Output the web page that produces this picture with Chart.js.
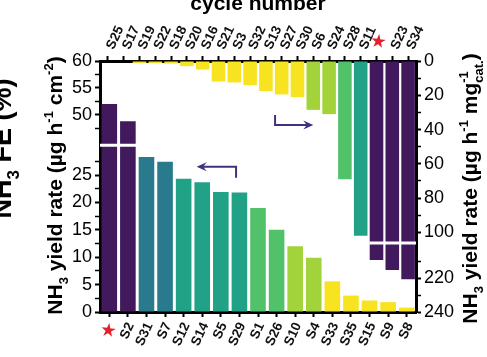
<!DOCTYPE html>
<html><head><meta charset="utf-8">
<script src="https://cdn.jsdelivr.net/npm/chart.js@4"></script>
<style>html,body{margin:0;padding:0;background:#fff;}canvas{display:block;}</style>
</head><body>
<canvas id="c" width="487" height="357" style="width:487px;height:357px"></canvas>
<script>
// ---- data ----
const BOTTOM_CATS = ['★','S2','S31','S7','S12','S14','S5','S29','S1','S26','S10','S4','S33','S35','S15','S9','S8'];
const AREA_RATE   = [52.0, 48.8, 28.3, 27.4, 24.3, 23.7, 21.9, 21.8, 19.0, 15.0, 12.0, 9.9, 5.6, 3.0, 2.1, 1.8, 0.8];
const TOP_CATS    = ['S25','S17','S19','S22','S18','S20','S16','S21','S3','S32','S13','S27','S30','S6','S24','S28','S11','★','S23','S34'];
const MASS_RATE   = [0, 0, 1.2, 1.2, 1.5, 3, 5, 12, 12.5, 14, 17.5, 19.5, 21, 28.5, 31, 69, 102, 209, 215, 220.5];
const LEFT_TICKS  = [0, 5, 10, 15, 20, 25, 50, 55, 60];
const LEFT_MINOR  = [2.5, 7.5, 12.5, 17.5, 22.5, 27.5, 47.5, 52.5, 57.5];
const RIGHT_TICKS = [0, 20, 40, 60, 80, 100, 220, 240];
const RIGHT_MINOR = [10, 30, 50, 70, 90, 210, 230];

// ---- styles ----
const FONT = "'Liberation Sans', Arial, sans-serif";
const PURPLE = '#42195c', BLUE = '#2a7a8e', TEAL = '#21a286', GREEN = '#52c26a', LIME = '#a2d33b', YELLOW = '#f7e320';
const BOTTOM_COLORS = [PURPLE,PURPLE,BLUE,BLUE,TEAL,TEAL,TEAL,TEAL,GREEN,GREEN,LIME,LIME,YELLOW,YELLOW,YELLOW,YELLOW,YELLOW];
const TOP_COLORS = [YELLOW,YELLOW,YELLOW,YELLOW,YELLOW,YELLOW,YELLOW,YELLOW,YELLOW,YELLOW,YELLOW,YELLOW,YELLOW,LIME,LIME,GREEN,TEAL,PURPLE,PURPLE,PURPLE];
const ARROW = '#43307f';

// axis breaks: [value, fraction of axis length]
const BREAKS = {
  y:  [[0, 0], [29.5, 0.644], [45.3, 0.685], [60, 1]],
  y2: [[0, 0], [105, 0.717], [200, 0.733], [240, 1]]
};

const LinearScale = Chart.LinearScale || Chart.registry.getScale('linear');
class BrokenScale extends LinearScale {
  _map(v) {
    const p = BREAKS[this.id];
    for (let i = 1; i < p.length; i++) {
      if (v <= p[i][0] || i === p.length - 1) {
        const [a, fa] = p[i - 1], [b, fb] = p[i];
        return fa + (v - a) / (b - a) * (fb - fa);
      }
    }
  }
  _unmap(f) {
    const p = BREAKS[this.id];
    for (let i = 1; i < p.length; i++) {
      if (f <= p[i][1] || i === p.length - 1) {
        const [a, fa] = p[i - 1], [b, fb] = p[i];
        return a + (f - fa) / (fb - fa) * (b - a);
      }
    }
  }
  getPixelForValue(v) {
    if (v === null || v === undefined || isNaN(v)) return NaN;
    return this.getPixelForDecimal(this._map(v));
  }
  getValueForPixel(px) { return this._unmap(this.getDecimalForPixel(px)); }
}
BrokenScale.id = 'broken';
BrokenScale.defaults = {};
Chart.register(BrokenScale);

function drawRich(ctx, parts, cx, cy, size, angle) {
  const big = `bold ${size}px ${FONT}`, small = `bold ${Math.round(size * 0.62)}px ${FONT}`;
  ctx.save(); ctx.translate(cx, cy); ctx.rotate(angle);
  ctx.textBaseline = 'alphabetic'; ctx.textAlign = 'left'; ctx.fillStyle = '#000';
  const w = p => {
    if (p[1] === '') { ctx.font = big; return ctx.measureText(p[0]).width; }
    ctx.font = small;
    if (p[1] === 'supsub') return Math.max(ctx.measureText(p[0][0]).width, ctx.measureText(p[0][1]).width);
    return ctx.measureText(p[0]).width;
  };
  const total = parts.reduce((s, p) => s + w(p), 0);
  let x = -total / 2;
  for (const p of parts) {
    const pw = w(p);
    if (p[1] === '') { ctx.font = big; ctx.fillText(p[0], x, 0); }
    else if (p[1] === 'sub') { ctx.font = small; ctx.fillText(p[0], x, size * 0.28); }
    else if (p[1] === 'sup') { ctx.font = small; ctx.fillText(p[0], x, -size * 0.42); }
    else { ctx.font = small; ctx.fillText(p[0][0], x, -size * 0.42); ctx.fillText(p[0][1], x, size * 0.3); }
    x += pw;
  }
  ctx.restore();
}

function arrow(ctx, pts) {
  ctx.save();
  ctx.strokeStyle = ARROW; ctx.fillStyle = ARROW; ctx.lineWidth = 2;
  const n = pts.length;
  const [x1, y1] = pts[n - 2], [x2, y2] = pts[n - 1];
  const ang = Math.atan2(y2 - y1, x2 - x1);
  const L = 10, H = 4.5;
  ctx.beginPath(); ctx.moveTo(pts[0][0], pts[0][1]);
  for (let i = 1; i < n - 1; i++) ctx.lineTo(pts[i][0], pts[i][1]);
  ctx.lineTo(x2 - Math.cos(ang) * L * 0.6, y2 - Math.sin(ang) * L * 0.6);
  ctx.stroke();
  ctx.translate(x2, y2); ctx.rotate(ang);
  ctx.beginPath(); ctx.moveTo(0, 0); ctx.lineTo(-L, -H); ctx.lineTo(-L * 0.65, 0); ctx.lineTo(-L, H); ctx.closePath(); ctx.fill();
  ctx.restore();
}

const deco = {
  id: 'deco',
  afterDatasetsDraw(chart) {
    const { ctx, chartArea: ca, scales: { x, x2, y, y2 } } = chart;
    ctx.save(); ctx.strokeStyle = '#fff'; ctx.lineWidth = 3;
    const yb = y.getPixelForDecimal((BREAKS.y[1][1] + BREAKS.y[2][1]) / 2);
    ctx.beginPath(); ctx.moveTo(ca.left, yb); ctx.lineTo(x.getPixelForValue(1.55), yb); ctx.stroke();
    const yb2 = y2.getPixelForDecimal((BREAKS.y2[1][1] + BREAKS.y2[2][1]) / 2);
    ctx.beginPath(); ctx.moveTo(x2.getPixelForValue(16.55), yb2); ctx.lineTo(ca.right, yb2); ctx.stroke();
    ctx.restore();
  },
  afterDraw(chart) {
    const { ctx, chartArea: ca, scales: { x, x2, y, y2 } } = chart;
    const cy = (ca.top + ca.bottom) / 2;
    // top title
    ctx.save(); ctx.font = `bold 21px ${FONT}`; ctx.fillStyle = '#000'; ctx.textAlign = 'center'; ctx.textBaseline = 'alphabetic';
    ctx.fillText('cycle number', (ca.left + ca.right) / 2, 10);
    ctx.restore();
    drawRich(ctx, [['NH', ''], ['3', 'sub'], [' FE (%)', '']], ca.left - 89, cy - 38, 27, -Math.PI / 2);
    drawRich(ctx, [['NH', ''], ['3', 'sub'], [' yield rate (µg h', ''], ['-1', 'sup'], [' cm', ''], ['-2', 'sup'], [')', '']],
      ca.left - 38, cy - 1, 21, -Math.PI / 2);
    drawRich(ctx, [['NH', ''], ['3', 'sub'], [' yield rate (µg h', ''], ['-1', 'sup'], [' mg', ''], [['-1', 'cat.'], 'supsub'], [')', '']],
      ca.right + 61, cy + 2, 21, -Math.PI / 2);
    // arrows
    arrow(ctx, [[x.getPixelForValue(6.82), y.getPixelForValue(24.5)], [x.getPixelForValue(6.82), y.getPixelForValue(26.5)], [x.getPixelForValue(4.7), y.getPixelForValue(26.5)]]);
    arrow(ctx, [[x2.getPixelForValue(10.58), y2.getPixelForValue(31.5)], [x2.getPixelForValue(10.58), y2.getPixelForValue(37.3)], [x2.getPixelForValue(13.0), y2.getPixelForValue(37.3)]]);
  }
};

const catTickFont = c => (c.tick && c.tick.label === '★') ? { family: FONT, size: 16, weight: 'bold' } : { family: FONT, size: 13.5, weight: 'bold' };
const catTickColor = c => (c.tick && c.tick.label === '★') ? '#e3202b' : '#111';
const isMajor = (c, list) => c.tick && list.includes(c.tick.value);

new Chart(document.getElementById('c'), {
  type: 'bar',
  data: {
    datasets: [
      { label: 'area', data: AREA_RATE, xAxisID: 'x', yAxisID: 'y', backgroundColor: BOTTOM_COLORS,
        barPercentage: 0.84, categoryPercentage: 1, grouped: false, borderWidth: 0 },
      { label: 'mass', data: MASS_RATE, xAxisID: 'x2', yAxisID: 'y2', backgroundColor: TOP_COLORS,
        barPercentage: 0.86, categoryPercentage: 1, grouped: false, borderWidth: 0 }
    ]
  },
  options: {
    responsive: false, animation: false,
    layout: { padding: 0 },
    plugins: { legend: { display: false }, tooltip: { enabled: false }, title: { display: false } },
    scales: {
      x: {
        type: 'category', position: 'bottom', labels: BOTTOM_CATS, offset: true, z: 1,
        afterFit: s => { s.height = 45; },
        ticks: { autoSkip: false, minRotation: 65, maxRotation: 65, padding: 3, labelOffset: 3, font: catTickFont, color: catTickColor },
        grid: { offset: false, drawOnChartArea: false, drawTicks: true, tickLength: 5, tickColor: '#000', tickWidth: 2 },
        border: { display: true, color: '#000', width: 3 }
      },
      x2: {
        type: 'category', position: 'top', labels: TOP_CATS, offset: true, z: 1,
        afterFit: s => { s.height = 61; },
        ticks: { autoSkip: false, minRotation: 65, maxRotation: 65, padding: 4, labelOffset: 17, font: catTickFont, color: catTickColor },
        grid: { offset: false, drawOnChartArea: false, drawTicks: true, tickLength: 5, tickColor: '#000', tickWidth: 2 },
        border: { display: true, color: '#000', width: 3 }
      },
      y: {
        type: 'broken', position: 'left', min: 0, max: 60, z: 1,
        afterBuildTicks: s => { s.ticks = [...LEFT_TICKS, ...LEFT_MINOR].sort((a, b) => a - b).map(v => ({ value: v })); },
        afterFit: s => { s.width = 100; },
        ticks: { autoSkip: false, padding: 3, color: '#000', font: { family: FONT, size: 18 },
          callback: v => LEFT_TICKS.includes(v) ? String(v) : '' },
        grid: { drawOnChartArea: false, drawTicks: true, tickLength: 5, tickColor: '#000',
          tickWidth: c => isMajor(c, LEFT_TICKS) ? 2 : 1.5 },
        border: { display: true, color: '#000', width: 3 }
      },
      y2: {
        type: 'broken', position: 'right', min: 0, max: 240, reverse: true, z: 1,
        afterBuildTicks: s => { s.ticks = [...RIGHT_TICKS, ...RIGHT_MINOR].sort((a, b) => a - b).map(v => ({ value: v })); },
        afterFit: s => { s.width = 71; },
        ticks: { autoSkip: false, padding: 3, color: '#000', font: { family: FONT, size: 18 },
          callback: v => RIGHT_TICKS.includes(v) ? String(v) : '' },
        grid: { drawOnChartArea: false, drawTicks: true, tickLength: 5, tickColor: '#000',
          tickWidth: c => isMajor(c, RIGHT_TICKS) ? 2 : 1.5 },
        border: { display: true, color: '#000', width: 3 }
      }
    }
  },
  plugins: [deco]
});
</script>
</body></html>
